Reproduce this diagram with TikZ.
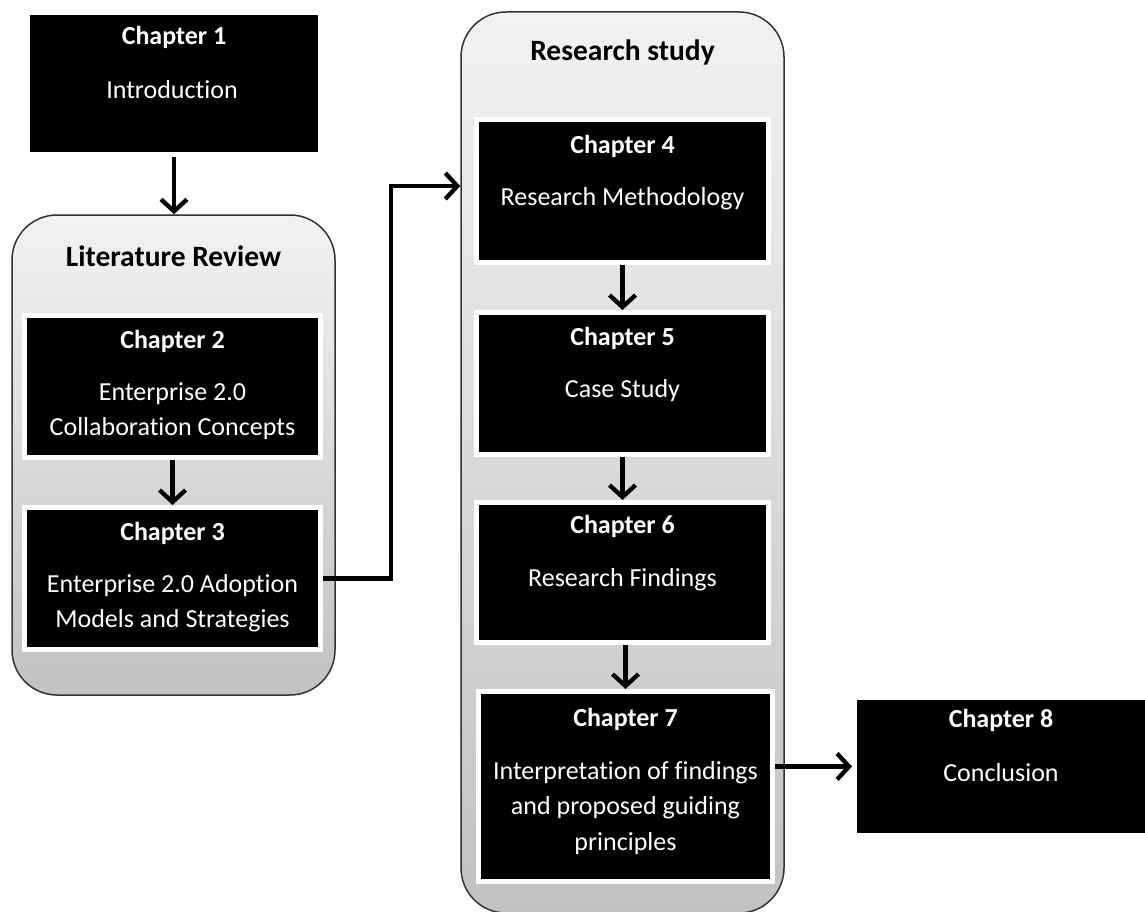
\documentclass[tikz,border=0pt]{standalone}
\usepackage{fontspec}
\setmainfont[Ligatures=NoCommon]{Carlito}
\usetikzlibrary{arrows.meta,shadows}
\begin{document}
\begin{tikzpicture}[x=1pt,y=-1pt,
  chapbox/.style={draw=white, line width=5pt, fill=black, inner sep=0pt,
    drop shadow={shadow xshift=1pt, shadow yshift=-2.5pt, opacity=0.3, fill=black}},
  container/.style={draw=black!80, line width=1.5pt, rounded corners=45pt,
    top color=black!5, bottom color=black!24, inner sep=0pt},
  ctitle/.style={font=\fontsize{26}{30}\selectfont\bfseries, text=white, inner sep=0pt},
  cbody/.style={font=\fontsize{26}{35.5}\selectfont, text=white, align=center, inner sep=0pt},
  gtitle/.style={font=\fontsize{29.5}{34}\selectfont\bfseries, text=black, inner sep=0pt},
  arr/.style={line width=4.3pt, -{Straight Barb[length=12pt, width=26pt, line width=4.3pt]}}]
\useasboundingbox (0,0) rectangle (1145,912);
% containers
\node[container, minimum width=323pt, minimum height=480pt] (lr) at (173.5,455) {};
\node[container, minimum width=323pt, minimum height=901pt] (rs) at (622.5,462.5) {};
\node[gtitle] (lrt) at (173.5,256) {Literature Review};
\node[gtitle] (rst) at (622.5,52) {Research study};
% chapter boxes
\node[chapbox, minimum width=293pt, minimum height=142pt] (c1) at (174,83.5) {};
\node[chapbox, minimum width=296pt, minimum height=142pt] (c2) at (172.5,386.5) {};
\node[chapbox, minimum width=296pt, minimum height=142pt] (c3) at (172.5,578.5) {};
\node[chapbox, minimum width=292pt, minimum height=143pt] (c4) at (622.5,191) {};
\node[chapbox, minimum width=292pt, minimum height=142pt] (c5) at (622.5,383.5) {};
\node[chapbox, minimum width=292pt, minimum height=140pt] (c6) at (622.5,572.5) {};
\node[chapbox, minimum width=294pt, minimum height=190pt] (c7) at (625.5,786.5) {};
\node[chapbox, minimum width=293pt, minimum height=138pt] (c8) at (1001,766.5) {};
% texts
\node[ctitle] (c1t) at (174,37) {Chapter 1};
\node[cbody] (c1b) at (172,90) {Introduction};
\node[ctitle] (c2t) at (172.5,341) {Chapter 2};
\node[cbody] (c2b) at (172.5,411) {Enterprise 2.0\\Collaboration Concepts};
\node[ctitle] (c3t) at (172.5,533) {Chapter 3};
\node[cbody] (c3b) at (172.5,603) {Enterprise 2.0 Adoption\\Models and Strategies};
\node[ctitle] (c4t) at (622.5,146) {Chapter 4};
\node[cbody] (c4b) at (622.5,199) {Research Methodology};
\node[ctitle] (c5t) at (622.5,338) {Chapter 5};
\node[cbody] (c5b) at (622.5,391) {Case Study};
\node[ctitle] (c6t) at (622.5,526) {Chapter 6};
\node[cbody] (c6b) at (622.5,580) {Research Findings};
\node[ctitle] (c7t) at (625.5,719) {Chapter 7};
\node[cbody] (c7b) at (625.5,808) {Interpretation of findings\\and proposed guiding\\principles};
\node[ctitle] (c8t) at (1001,720) {Chapter 8};
\node[cbody] (c8b) at (1001,773) {Conclusion};
% connectors
\draw[arr] (c1.south) -- (c1.south |- lr.north);
\draw[arr] (c2.south) -- (c3.north);
\coordinate (j) at (391,186);
\draw[arr] (c3.east) -| (j) -- (j -| rs.west);
\draw[arr] (c4.south) -- (c5.north);
\draw[arr] (c5.south) -- (c6.north);
\draw[arr] (c7.north |- c6.south) -- (c7.north);
\draw[arr] (c8.west -| c7.east) -- (c8.west);
\end{tikzpicture}
\end{document}
